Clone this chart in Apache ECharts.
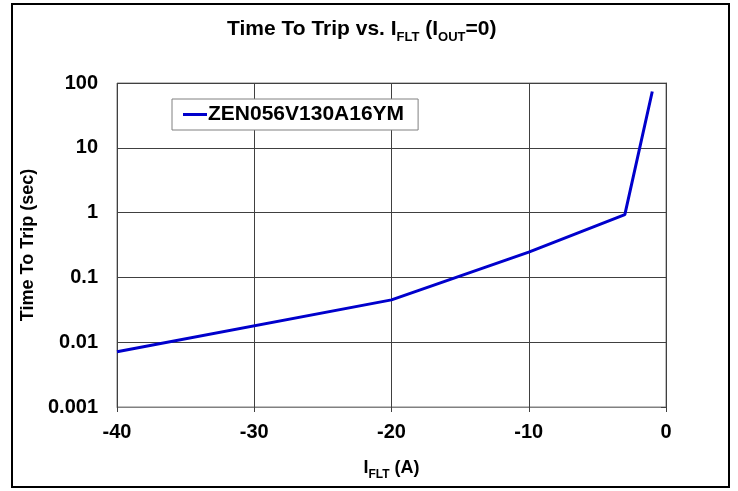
<!DOCTYPE html>
<html>
<head>
<meta charset="utf-8">
<script src="https://cdn.jsdelivr.net/npm/echarts@6/dist/echarts.min.js"></script>
<style>
html,body{margin:0;padding:0;background:#fff;}
#c{width:738px;height:491px;}
</style>
</head>
<body>
<div id="c"></div>
<script>
var seriesName = 'ZEN056V130A16YM';
var currentA = [-40, -20, -10, -3, -1];
var tripSec = [0.0071, 0.045, 0.245, 0.93, 74];
var yTicks = [0.001, 0.01, 0.1, 1, 10, 100];
var xTicks = [-40, -30, -20, -10, 0];

var data = currentA.map(function (x, i) { return [x, tripSec[i]]; });
var F = 'Liberation Sans, Arial, sans-serif';

var chart = echarts.init(document.getElementById('c'), null, {renderer: 'canvas'});
chart.setOption({
  backgroundColor: '#fff',
  animation: false,
  title: {
    text: '{a|Time To Trip vs. I}{s|FLT}{a| (I}{s|OUT}{a|=0)}',
    left: 222,
    top: 11,
    textStyle: {
      rich: {
        a: {fontFamily: F, fontSize: 21, fontWeight: 'bold', color: '#000', verticalAlign: 'bottom', lineHeight: 24},
        s: {fontFamily: F, fontSize: 13, fontWeight: 'bold', color: '#000', verticalAlign: 'bottom', lineHeight: 16, padding: [0, 0, -4, 0]}
      }
    }
  },
  legend: {
    left: 172,
    top: 99,
    padding: [5, 14, 5, 11],
    borderColor: '#808080',
    borderWidth: 1,
    backgroundColor: '#fff',
    itemWidth: 24,
    itemHeight: 3,
    icon: 'rect',
    itemGap: 0,
    data: [seriesName],
    textStyle: {fontFamily: F, fontSize: 21, fontWeight: 'bold', color: '#000', padding: [0, 0, 0, -4], lineHeight: 21}
  },
  grid: {left: 117, right: 72, top: 83, bottom: 84, containLabel: false,
         show: true, borderColor: '#808080', borderWidth: 1},
  xAxis: {
    type: 'value',
    min: -40, max: 0, interval: 10,
    name: '{a|I}{s|FLT}{a| (A)}',
    nameLocation: 'middle',
    nameGap: 48,
    nameTextStyle: {
      rich: {
        a: {fontFamily: F, fontSize: 18, fontWeight: 'bold', color: '#000', verticalAlign: 'bottom', lineHeight: 22},
        s: {fontFamily: F, fontSize: 12, fontWeight: 'bold', color: '#000', verticalAlign: 'bottom', lineHeight: 14, padding: [0, 0, -4, 0]}
      }
    },
    axisLine: {show: true, lineStyle: {color: '#808080', width: 1}},
    axisTick: {show: true, inside: false, length: 5, lineStyle: {color: '#404040'}},
    axisLabel: {fontFamily: F, fontSize: 20, fontWeight: 'bold', color: '#000', margin: 15,
      formatter: function (v) { return xTicks.indexOf(v) >= 0 ? String(v) : ''; }},
    splitLine: {show: true, lineStyle: {color: '#404040', width: 1}}
  },
  yAxis: {
    type: 'log',
    logBase: 10,
    min: yTicks[0], max: yTicks[yTicks.length - 1],
    name: 'Time To Trip (sec)',
    nameLocation: 'middle',
    nameGap: 80,
    nameRotate: 90,
    nameTextStyle: {fontFamily: F, fontSize: 18, fontWeight: 'bold', color: '#000'},
    axisLine: {show: true, lineStyle: {color: '#404040', width: 1}},
    axisTick: {show: true, inside: false, length: 5, lineStyle: {color: '#404040'}},
    axisLabel: {fontFamily: F, fontSize: 20, fontWeight: 'bold', color: '#000', margin: 19,
      formatter: function (v) {
        for (var i = 0; i < yTicks.length; i++) {
          if (Math.abs(v - yTicks[i]) / yTicks[i] < 1e-6) return String(yTicks[i]);
        }
        return '';
      }},
    splitLine: {show: true, lineStyle: {color: '#404040', width: 1}}
  },
  series: [{
    name: seriesName,
    type: 'line',
    data: data,
    symbol: 'none',
    lineStyle: {color: '#0000CC', width: 3},
    itemStyle: {color: '#0000CC'}
  }],
  graphic: [{
    type: 'rect',
    shape: {x: 12, y: 4, width: 717, height: 483},
    style: {fill: 'none', stroke: '#000', lineWidth: 2},
    silent: true,
    z: 100
  }]
});
</script>
</body>
</html>
